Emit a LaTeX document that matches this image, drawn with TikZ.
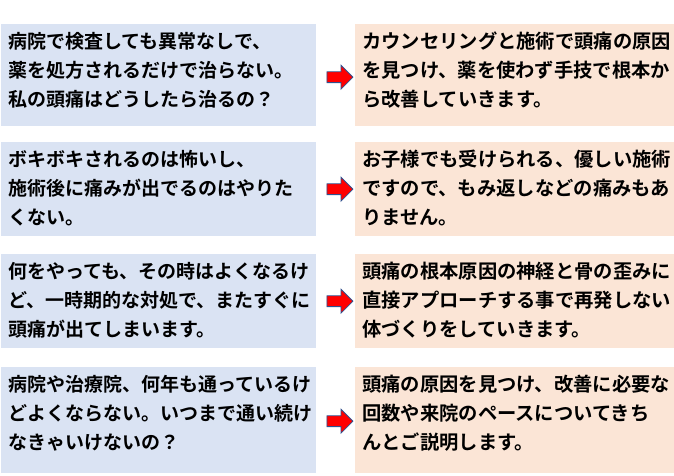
\documentclass[tikz,border=0pt]{standalone}
\usepackage{fontspec}
\newfontfamily\jpfont{Noto Sans CJK JP}[BoldFont={* Bold}]
\usetikzlibrary{shapes.arrows,calc}
\definecolor{qblue}{HTML}{DAE3F3}
\definecolor{aorange}{HTML}{FBE5D6}
\definecolor{arrred}{HTML}{FF0000}
\definecolor{arredge}{HTML}{2F528F}
\tikzset{
  qbox/.style={rectangle, fill=qblue, inner sep=0pt, minimum width=315pt, anchor=north west},
  abox/.style={rectangle, fill=aorange, inner sep=0pt, minimum width=319pt, anchor=north west},
  txt/.style={anchor=north west, inner sep=0pt, align=left, font=\jpfont\bfseries\fontsize{19}{29}\selectfont},
  atxt/.style={txt, font=\jpfont\bfseries\fontsize{19.3}{29}\selectfont},
  blockarrow/.style={single arrow, fill=arrred, draw=arredge, line width=0.8pt,
    text width=0pt, text height=5pt, text depth=5pt,
    minimum height=26pt, single arrow head extend=6.5pt, inner sep=0pt, outer sep=0pt}
}
\begin{document}
\begin{tikzpicture}[x=1pt,y=1pt]
\useasboundingbox (0,0) rectangle (674,-475);
% row 1
\node[qbox, minimum height=102pt] (q1) at (1,-24) {};
\node[abox, minimum height=102pt] (a1) at (355,-24) {};
\node[txt] (qt1) at ($(q1.north west)+(7,-8)$) {病院で検査しても異常なしで、\\薬を処方されるだけで治らない。\\私の頭痛はどうしたら治るの？};
\node[atxt] (at1) at ($(a1.north west)+(7,-8)$) {カウンセリングと施術で頭痛の原因\\を見つけ、薬を使わず手技で根本か\\ら改善していきます。};
\node[blockarrow] (r1) at ($(q1.east)!0.5!(a1.west)+(1.5,-2)$) {};
% row 2
\node[qbox, minimum height=94pt] (q2) at (1,-142) {};
\node[abox, minimum height=94pt] (a2) at (355,-142) {};
\node[txt] (qt2) at ($(q2.north west)+(7,-8)$) {ボキボキされるのは怖いし、\\施術後に痛みが出でるのはやりた\\くない。};
\node[atxt] (at2) at ($(a2.north west)+(7,-8)$) {お子様でも受けられる、優しい施術\\ですので、もみ返しなどの痛みもあ\\りません。};
\node[blockarrow] (r2) at ($(q2.east)!0.5!(a2.west)+(1.5,0)$) {};
% row 3
\node[qbox, minimum height=94pt] (q3) at (1,-254) {};
\node[abox, minimum height=94pt] (a3) at (355,-254) {};
\node[txt] (qt3) at ($(q3.north west)+(7,-8)$) {何をやっても、その時はよくなるけ\\ど、一時期的な対処で、またすぐに\\頭痛が出てしまいます。};
\node[atxt] (at3) at ($(a3.north west)+(7,-8)$) {頭痛の根本原因の神経と骨の歪みに\\直接アプローチする事で再発しない\\体づくりをしていきます。};
\node[blockarrow] (r3) at ($(q3.east)!0.5!(a3.west)+(1.5,0)$) {};
% row 4
\node[qbox, minimum height=106pt] (q4) at (1,-367) {};
\node[abox, minimum height=106pt] (a4) at (355,-367) {};
\node[txt] (qt4) at ($(q4.north west)+(7,-8)$) {病院や治療院、何年も通っているけ\\どよくならない。いつまで通い続け\\なきゃいけないの？};
\node[atxt] (at4) at ($(a4.north west)+(7,-8)$) {頭痛の原因を見つけ、改善に必要な\\回数や来院のペースについてきち\\んとご説明します。};
\node[blockarrow] (r4) at ($(q4.east)!0.5!(a4.west)+(1.5,-1)$) {};
\end{tikzpicture}
\end{document}
